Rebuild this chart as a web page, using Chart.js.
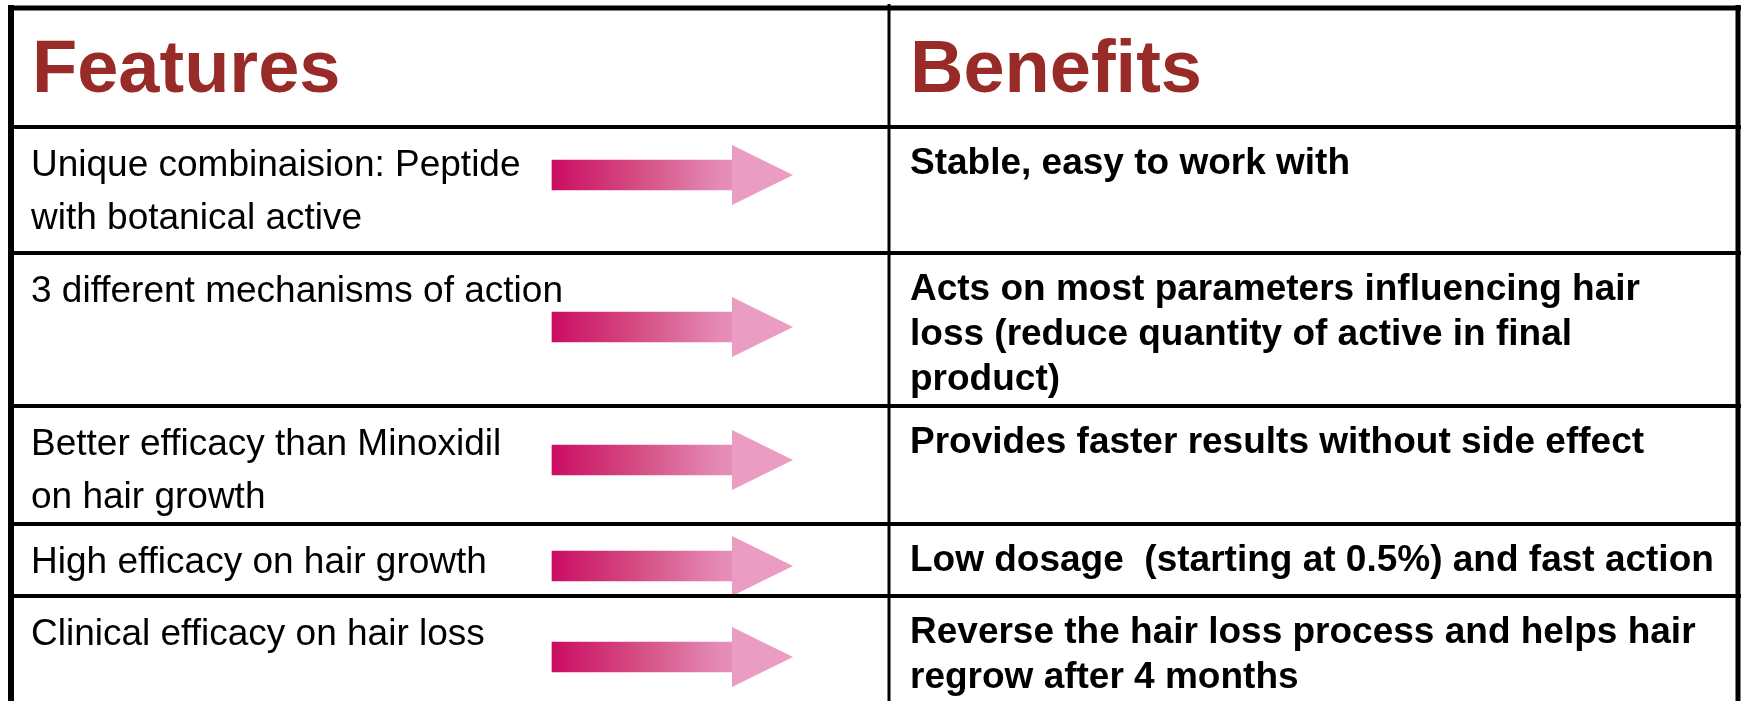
<!DOCTYPE html>
<html>
<head>
<meta charset="utf-8">
<script src="https://cdn.jsdelivr.net/npm/chart.js@4"></script>
<style>
  html, body { margin: 0; padding: 0; background: #fff; }
  #wrap { width: 1742px; height: 701px; position: relative; }
</style>
</head>
<body>
<div id="wrap"><canvas id="featTable"></canvas></div>
<script>
// table content
const headers = ['Features', 'Benefits'];
const features = [
  ['Unique combinaision: Peptide', 'with botanical active'],
  ['3 different mechanisms of action'],
  ['Better efficacy than Minoxidil', 'on hair growth'],
  ['High efficacy on hair growth'],
  ['Clinical efficacy on hair loss']
];
const benefits = [
  ['Stable, easy to work with'],
  ['Acts on most parameters influencing hair', 'loss (reduce quantity of active in final', 'product)'],
  ['Provides faster results without side effect'],
  ['Low dosage  (starting at 0.5%) and fast action'],
  ['Reverse the hair loss process and helps hair', 'regrow after 4 months']
];

// layout (in pixel units of the x / y scales)
const W = 1742, H = 701;
const rowTops = [127, 253, 406, 524, 596];
const arrowY = [175, 327, 460, 566, 657];
const arrowFrom = 552, arrowTo = 733, headLen = 60, headHalf = 30;
const colX = 889, leftX = 11, rightX = 1738, topY = 8;
const FONT = '"Liberation Sans", Arial, Helvetica, sans-serif';

const tablePlugin = {
  id: 'tablePlugin',
  beforeDatasetsDraw(chart) {
    const { ctx, scales: { x, y } } = chart;
    ctx.save();
    ctx.textBaseline = 'alphabetic';
    // headers
    ctx.fillStyle = '#982B28';
    ctx.font = 'bold 74px ' + FONT;
    ctx.fillText(headers[0], x.getPixelForValue(32), y.getPixelForValue(92));
    ctx.fillText(headers[1], x.getPixelForValue(910), y.getPixelForValue(92));
    // rows
    ctx.fillStyle = '#000';
    features.forEach((lines, i) => {
      ctx.font = '37px ' + FONT;
      lines.forEach((t, j) => {
        ctx.fillText(t, x.getPixelForValue(31), y.getPixelForValue(rowTops[i] + 49 + j * 53));
      });
    });
    benefits.forEach((lines, i) => {
      ctx.font = 'bold 37px ' + FONT;
      lines.forEach((t, j) => {
        ctx.fillText(t, x.getPixelForValue(910), y.getPixelForValue(rowTops[i] + 47 + j * 45));
      });
    });
    ctx.restore();
  },
  afterDatasetsDraw(chart) {
    const { ctx, scales: { x, y } } = chart;
    ctx.save();
    // arrow heads on the end of each bar
    const meta = chart.getDatasetMeta(0);
    ctx.fillStyle = '#EA9CC3';
    meta.data.forEach(bar => {
      const hl = x.getPixelForValue(headLen) - x.getPixelForValue(0);
      const hh = Math.abs(y.getPixelForValue(headHalf) - y.getPixelForValue(0));
      ctx.beginPath();
      ctx.moveTo(bar.x - 1, bar.y - hh);
      ctx.lineTo(bar.x + hl, bar.y);
      ctx.lineTo(bar.x - 1, bar.y + hh);
      ctx.closePath();
      ctx.fill();
    });
    // grid
    ctx.strokeStyle = '#000';
    const hline = (yy, w) => {
      ctx.lineWidth = w;
      ctx.beginPath();
      ctx.moveTo(x.getPixelForValue(leftX - 3), y.getPixelForValue(yy));
      ctx.lineTo(x.getPixelForValue(rightX + 3), y.getPixelForValue(yy));
      ctx.stroke();
    };
    const vline = (xx, y0, w) => {
      ctx.lineWidth = w;
      ctx.beginPath();
      ctx.moveTo(x.getPixelForValue(xx), y.getPixelForValue(y0));
      ctx.lineTo(x.getPixelForValue(xx), y.getPixelForValue(H));
      ctx.stroke();
    };
    hline(topY, 5);
    rowTops.forEach(r => hline(r, 4));
    vline(leftX, topY - 3, 6);
    vline(rightX, topY - 3, 5);
    vline(colX, 4, 3);
    ctx.restore();
  }
};

new Chart(document.getElementById('featTable'), {
  type: 'bar',
  data: {
    datasets: [{
      label: 'arrows',
      data: arrowY.map(v => ({ x: [arrowFrom, arrowTo], y: v })),
      barThickness: 30,
      borderWidth: 0,
      borderSkipped: false,
      backgroundColor(c) {
        const chart = c.chart;
        if (!chart.chartArea) return '#D8608F';
        const x = chart.scales.x;
        const g = chart.ctx.createLinearGradient(x.getPixelForValue(arrowFrom), 0, x.getPixelForValue(arrowTo + headLen), 0);
        g.addColorStop(0, '#CB0D63');
        g.addColorStop(0.35, '#D44C82');
        g.addColorStop(0.7, '#E58BB6');
        g.addColorStop(1, '#EB9FC5');
        return g;
      }
    }]
  },
  options: {
    indexAxis: 'y',
    responsive: true,
    maintainAspectRatio: false,
    animation: false,
    layout: { padding: 0 },
    plugins: {
      legend: { display: false },
      tooltip: { enabled: false },
      title: { display: false }
    },
    scales: {
      x: { type: 'linear', min: 0, max: W, offset: false, display: false },
      y: { type: 'linear', min: 0, max: H, reverse: true, offset: false, display: false }
    }
  },
  plugins: [tablePlugin]
});
</script>
</body>
</html>
